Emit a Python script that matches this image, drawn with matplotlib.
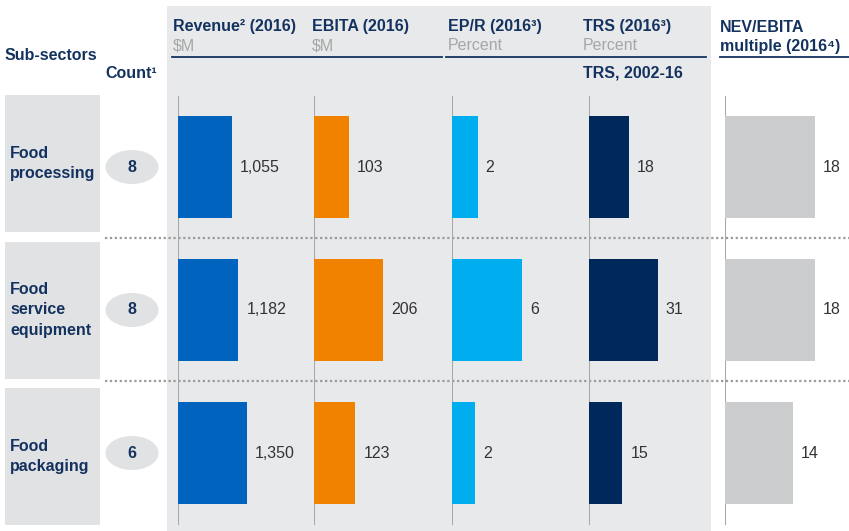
import numpy as np
import matplotlib.pyplot as plt
from matplotlib.patches import Rectangle, Ellipse

plt.rcParams['font.family'] = ['Liberation Sans', 'DejaVu Sans']

# data
sectors = ['Food\nprocessing', 'Food\nservice\nequipment', 'Food\npackaging']
counts = [8, 8, 6]
revenue = [1055, 1182, 1350]
ebita = [103, 206, 123]
ep_r = [2.2, 6.0, 2.0]
trs = [18, 31, 15]
nev_ebita = [18.4, 18.4, 13.9]

navy = '#14325F'
W, H = 849, 531

fig = plt.figure(figsize=(W / 100, H / 100), dpi=100)

# background axes in pixel coordinates
bg = fig.add_axes([0, 0, 1, 1])
bg.set_xlim(0, W)
bg.set_ylim(H, 0)
bg.axis('off')

bg.add_patch(Rectangle((167, 6), 544, 525, color='#E8E9EB', lw=0, zorder=0))

def row_y(i):
    return 167 + 143 * i

# left labels and counts
for i, (s, c) in enumerate(zip(sectors, counts)):
    y = row_y(i)
    top = 95 + 146.5 * i
    bg.add_patch(Rectangle((5, top), 95, 137, color='#E1E2E4', lw=0, zorder=1))
    bg.text(10, top + 68.5, s, ha='left', va='center', fontsize=11.5, fontweight='bold',
            color=navy, linespacing=1.45, zorder=2)
    bg.add_patch(Ellipse((132, y), 53, 34, color='#E1E2E4', lw=0, zorder=1))
    bg.text(132, y, str(c), ha='center', va='center', fontsize=11.5,
            fontweight='bold', color=navy, zorder=2)

# dotted separators
for i in range(len(sectors) - 1):
    y = (row_y(i) + row_y(i + 1)) / 2 - 1
    bg.plot([105, W], [y, y], color='#9A9A9A', lw=1.6, ls=(0, (1, 1.2)), zorder=3)

# headers
hdr = dict(fontsize=11.5, fontweight='bold', color=navy, va='center', ha='left')
sub = dict(fontsize=11.5, color='#A6A6A6', va='center', ha='left')
bg.text(5, 55, 'Sub-sectors', **hdr)
bg.text(105, 73, 'Count¹', **hdr)
bg.text(173, 27, 'Revenue² (2016)', **hdr)
bg.text(173, 46, '$M', **sub)
bg.text(312, 27, 'EBITA (2016)', **hdr)
bg.text(312, 46, '$M', **sub)
bg.text(448, 27, 'EP/R (2016³)', **hdr)
bg.text(448, 46, 'Percent', **sub)
bg.text(583, 27, 'TRS (2016³)', **hdr)
bg.text(583, 46, 'Percent', **sub)
bg.text(583, 73, 'TRS, 2002-16', **hdr)
bg.text(720, 37, 'NEV/EBITA\nmultiple (2016⁴)', linespacing=1.3, **hdr)
for x0, x1 in [(172, 442), (446, 706), (720, W)]:
    bg.plot([x0, x1], [57, 57], color=navy, lw=1.3)

# bar columns
cols = [
    (178, revenue, 0.0511, '#0064BE', '{:,.0f}'),
    (314, ebita, 0.336, '#F08200', '{:.0f}'),
    (452, ep_r, 11.7, '#00AEEF', '{:.0f}'),
    (589, trs, 2.22, '#00285A', '{:.0f}'),
    (725, nev_ebita, 4.89, '#CBCCCE', '{:.0f}'),
]
rows = np.arange(len(sectors))
for x0, vals, scale, color, fmt in cols:
    w = 124
    ax = fig.add_axes([x0 / W, 0, w / W, 525 / H])
    ax.patch.set_visible(False)
    ax.set_xlim(0, w / scale)
    ax.set_ylim((531 - 167) / 143, (6 - 167) / 143)
    ax.axis('off')
    ax.axvline(0, ymin=7 / 525, ymax=(531 - 97) / 525, color='#A8A8A8', lw=1.5, zorder=1)
    ax.barh(rows, vals, height=0.713, color=color, zorder=2)
    for r, v in zip(rows, vals):
        ax.annotate(fmt.format(v), xy=(v, r), xytext=(8, 0), textcoords='offset pixels',
                    va='center', ha='left', fontsize=11.5, color='#333333',
                    annotation_clip=False)

fig.savefig('out.png', dpi=100)
